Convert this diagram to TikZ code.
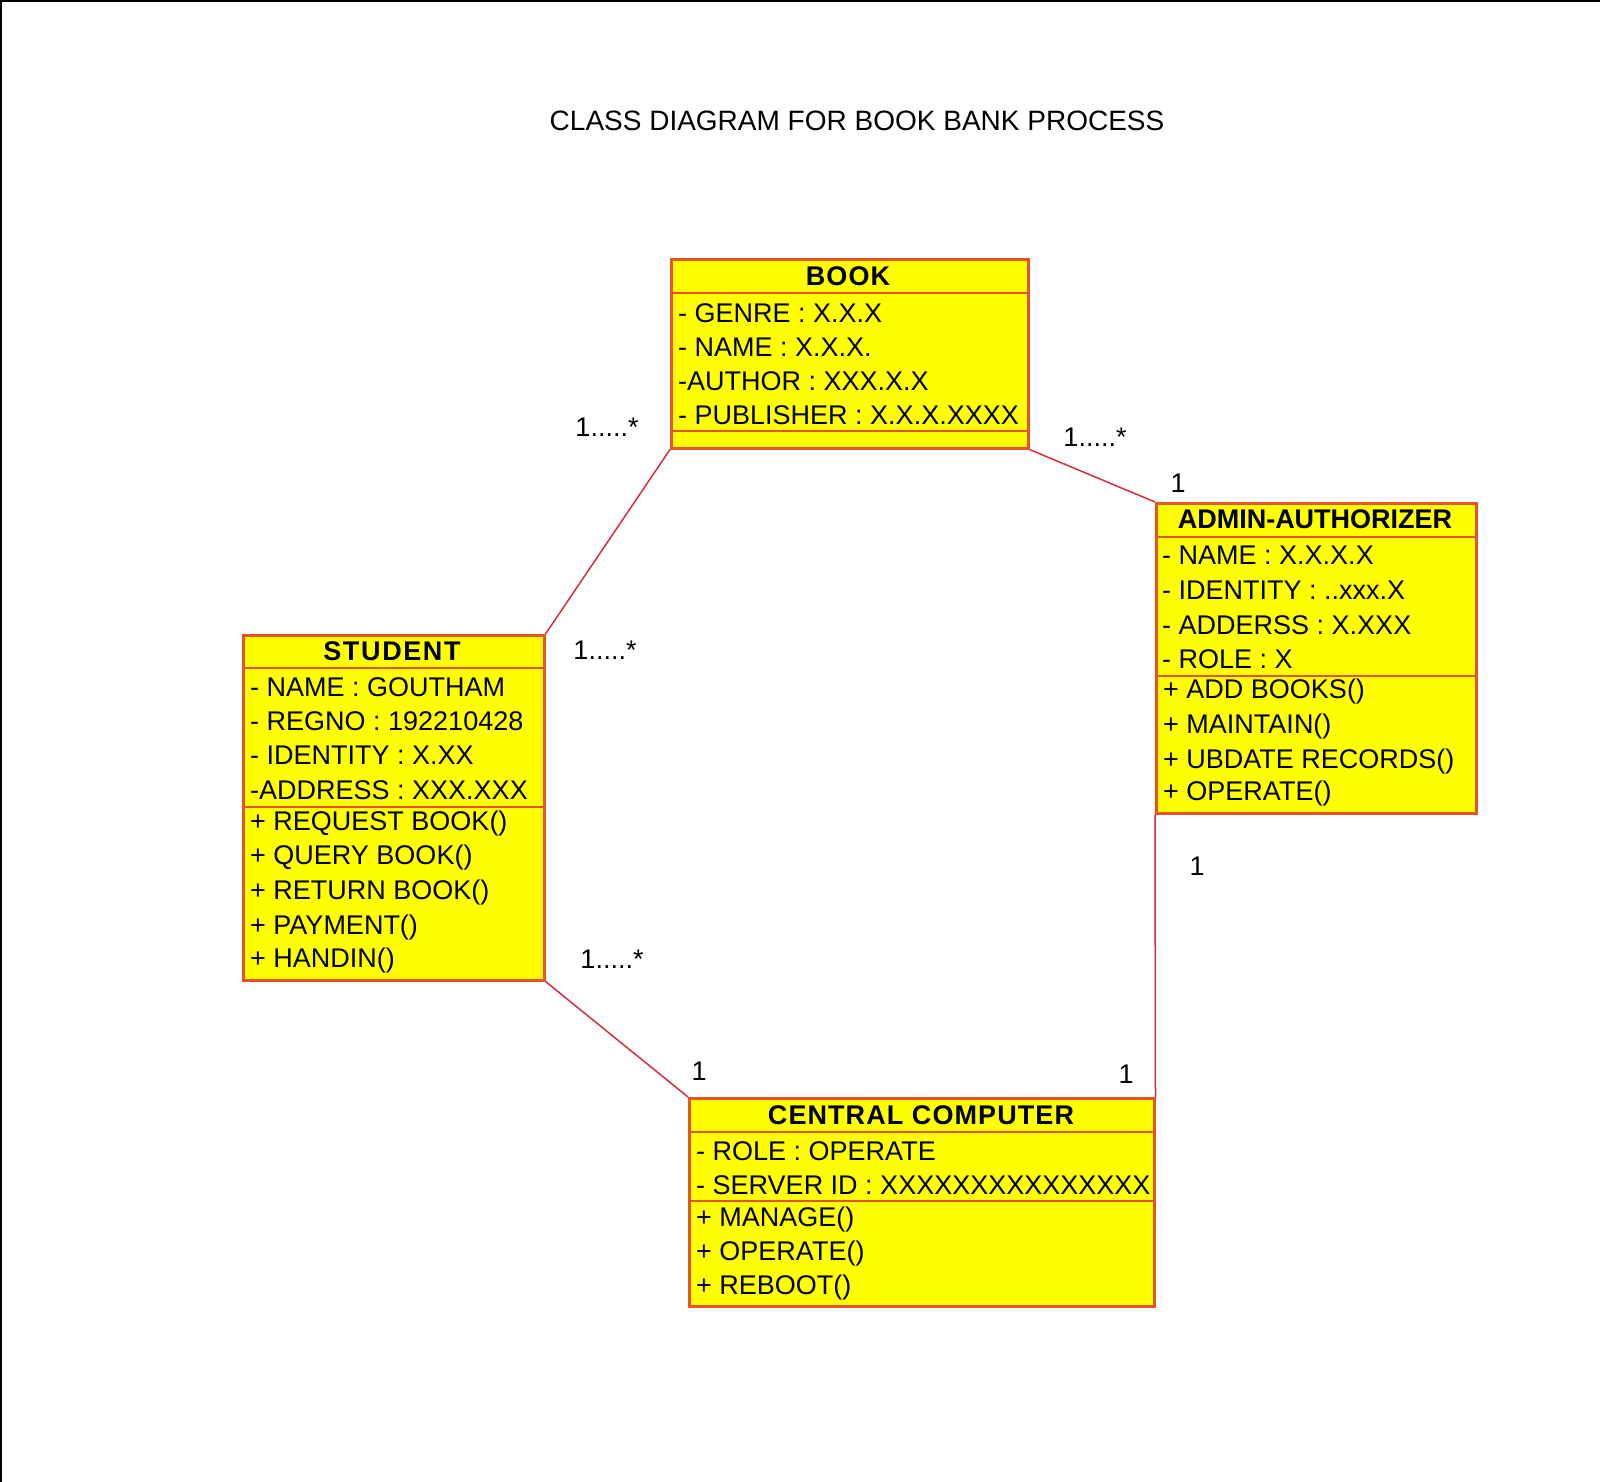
\documentclass[tikz,border=0pt]{standalone}
\usepackage{fontspec}
\setmainfont{Liberation Sans}
\definecolor{boxfill}{RGB}{255,255,0}
\definecolor{boxline}{RGB}{228,85,35}
\definecolor{linkcol}{RGB}{215,45,60}
\tikzset{
  classbox/.style={draw=boxline, fill=boxfill, line width=2.5pt, inner sep=0pt, anchor=north west},
  divline/.style={draw=boxline, line width=2.2pt},
  ctitle/.style={font=\fontsize{27}{30}\selectfont\bfseries, inner sep=0pt, anchor=center},
  row/.style={font=\fontsize{27}{30}\selectfont, inner sep=0pt, anchor=west},
  mult/.style={font=\fontsize{27}{30}\selectfont, inner sep=0pt, anchor=center},
  assoc/.style={draw=linkcol, line width=1.5pt},
  frameline/.style={draw=black, line width=2pt}
}
\begin{document}
\begin{tikzpicture}[x=1pt,y=-1pt]
\useasboundingbox (0,0) rectangle (1600,1482);
\fill[white] (0,0) rectangle (1600,1482);
\draw[frameline] (0,1) -- (1600,1);
\draw[frameline] (1,0) -- (1,1482);

% title
\node[font=\fontsize{28}{32}\selectfont, inner sep=0pt] (title) at (857,121) {CLASS DIAGRAM FOR BOOK BANK PROCESS};

% BOOK
\node[classbox, minimum width=357pt, minimum height=189pt] (book) at (670,258) {};
\draw[divline] (670,293) -- (1027,293);
\draw[divline] (670,431) -- (1027,431);
\node[ctitle] (booktitle) at (848,276) {\addfontfeature{LetterSpace=4}BOOK};
\node[row] (b1) at (678,313) {- GENRE : X.X.X};
\node[row] (b2) at (678,347) {- NAME : X.X.X.};
\node[row] (b3) at (678,381) {-AUTHOR : XXX.X.X};
\node[row] (b4) at (678,415) {- PUBLISHER : X.X.X.XXXX};

% ADMIN-AUTHORIZER
\node[classbox, minimum width=320pt, minimum height=310pt] (admin) at (1155,502) {};
\draw[divline] (1155,537) -- (1475,537);
\draw[divline] (1155,676) -- (1475,676);
\node[ctitle] (admintitle) at (1315,519) {ADMIN-AUTHORIZER};
\node[row] (a1) at (1162,555) {- NAME : X.X.X.X};
\node[row] (a2) at (1162,590) {- IDENTITY : ..xxx.X};
\node[row] (a3) at (1162,625) {- ADDERSS : X.XXX};
\node[row] (a4) at (1162,659) {- ROLE : X};
\node[row] (a5) at (1163,692) {+ ADD BOOKS()};
\node[row] (a6) at (1163,727) {+ MAINTAIN()};
\node[row] (a7) at (1163,762) {+ UBDATE RECORDS()};
\node[row] (a8) at (1163,794) {+ OPERATE()};

% STUDENT
\node[classbox, minimum width=301pt, minimum height=345pt] (student) at (242,634) {};
\draw[divline] (242,668) -- (543,668);
\draw[divline] (242,807) -- (543,807);
\node[ctitle] (studenttitle) at (392,651) {\addfontfeature{LetterSpace=6}STUDENT};
\node[row] (s1) at (250,687) {- NAME : GOUTHAM};
\node[row] (s2) at (250,721) {- REGNO : 192210428};
\node[row] (s3) at (250,755) {- IDENTITY : X.XX};
\node[row] (s4) at (250,790) {-ADDRESS : XXX.XXX};
\node[row] (s5) at (250,824) {+ REQUEST BOOK()};
\node[row] (s6) at (250,858) {+ QUERY BOOK()};
\node[row] (s7) at (250,893) {+ RETURN BOOK()};
\node[row] (s8) at (250,928) {+ PAYMENT()};
\node[row] (s9) at (250,961) {+ HANDIN()};

% CENTRAL COMPUTER
\node[classbox, minimum width=465pt, minimum height=208pt] (cc) at (688,1097) {};
\draw[divline] (688,1132) -- (1153,1132);
\draw[divline] (688,1201) -- (1153,1201);
\node[ctitle] (cctitle) at (921,1115) {\addfontfeature{LetterSpace=4}CENTRAL COMPUTER};
\node[row] (c1) at (696,1151) {- ROLE : OPERATE};
\node[row] (c2) at (696,1185) {- SERVER ID : XXXXXXXXXXXXXXX};
\node[row] (c3) at (696,1219) {+ MANAGE()};
\node[row] (c4) at (696,1253) {+ OPERATE()};
\node[row] (c5) at (696,1287) {+ REBOOT()};

% associations
\draw[assoc] (book.south west) -- (student.north east);
\draw[assoc] (book.south east) -- (admin.north west);
\draw[assoc] (student.south east) -- (cc.north west);
\draw[assoc] (admin.south west) -- (cc.north east);

% multiplicities
\node[mult] (m1) at (607,427) {1.....*};
\node[mult] (m2) at (1095,437) {1.....*};
\node[mult] (m3) at (1178,483) {1};
\node[mult] (m4) at (605,650) {1.....*};
\node[mult] (m5) at (612,959) {1.....*};
\node[mult] (m6) at (1197,866) {1};
\node[mult] (m7) at (699,1071) {1};
\node[mult] (m8) at (1126,1074) {1};
\end{tikzpicture}
\end{document}
